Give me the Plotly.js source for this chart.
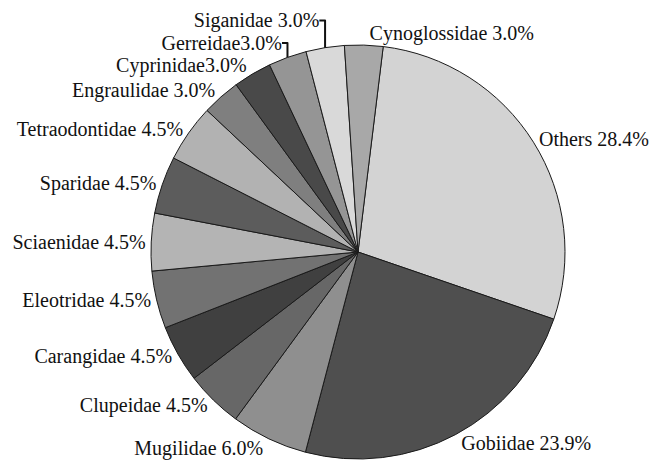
<!DOCTYPE html>
<html>
<head>
<meta charset="utf-8">
<script src="https://cdn.plot.ly/plotly-3.0.1.min.js"></script>
<style>html,body{margin:0;padding:0;background:#fff;}#chart{width:656px;height:470px;}</style>
</head>
<body>
<div id="chart"></div>
<script>
const families = ["Others","Gobiidae","Mugilidae","Clupeidae","Carangidae","Eleotridae","Sciaenidae","Sparidae","Tetraodontidae","Engraulidae","Cyprinidae","Gerreidae","Siganidae","Cynoglossidae"];
const percents = [28.4, 23.9, 6.0, 4.5, 4.5, 4.5, 4.5, 4.5, 4.5, 3.0, 3.0, 3.0, 3.0, 3.0];
const separators = [" "," "," "," "," "," "," "," "," "," ","",""," "," "];
const sliceColors = ["#d3d3d3","#4f4f4f","#8f8f8f","#676767","#404040","#727272","#b4b4b4","#5c5c5c","#b2b2b2","#7f7f7f","#494949","#959595","#d9d9d9","#a8a8a8"];

const trace = {
  type: "pie",
  labels: families,
  values: percents,
  customdata: separators,
  sort: false,
  direction: "clockwise",
  rotation: 7,
  marker: {colors: sliceColors, line: {color: "#1a1a1a", width: 1}},
  textposition: "outside",
  texttemplate: "%{label}%{customdata}%{value:.1f}%",
  textfont: {family: "Liberation Serif, Times New Roman, serif", size: 20, color: "#111"},
  outsidetextfont: {family: "Liberation Serif, Times New Roman, serif", size: 20, color: "#111"},
  domain: {x: [151/656, 565/656], y: [0, 1]},
  hoverinfo: "none",
  showlegend: false
};

const layout = {
  width: 656, height: 470,
  margin: {l: 0, r: 0, t: 45, b: 11},
  paper_bgcolor: "#fff",
  plot_bgcolor: "#fff",
  showlegend: false
};

Plotly.newPlot("chart", [trace], layout, {displayModeBar: false, staticPlot: true});
</script>
</body>
</html>
